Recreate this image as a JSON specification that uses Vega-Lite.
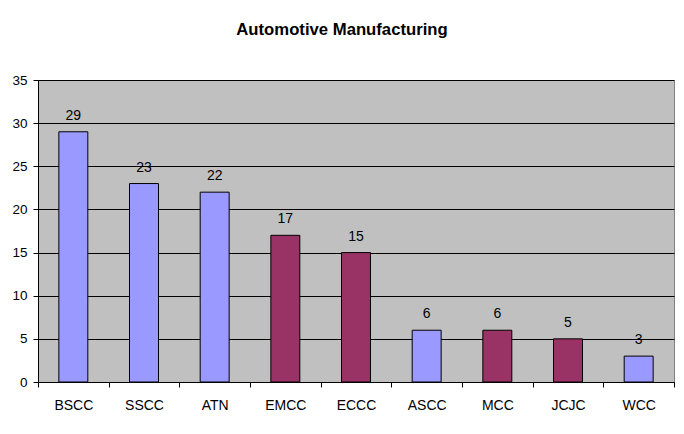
{
  "$schema": "https://vega.github.io/schema/vega-lite/v6.json",
  "width": 636,
  "height": 302,
  "autosize": {"type": "none"},
  "padding": {"left": 38, "top": 80, "right": 10, "bottom": 52},
  "background": "white",
  "title": {
    "text": "Automotive Manufacturing",
    "font": "Liberation Sans",
    "fontSize": 16.7,
    "fontWeight": "bold",
    "color": "black",
    "anchor": "middle",
    "offset": 34,
    "dx": -14
  },
  "data": {
    "values": [
      {"college": "BSCC", "count": 29, "group": "A"},
      {"college": "SSCC", "count": 23, "group": "A"},
      {"college": "ATN", "count": 22, "group": "A"},
      {"college": "EMCC", "count": 17, "group": "B"},
      {"college": "ECCC", "count": 15, "group": "B"},
      {"college": "ASCC", "count": 6, "group": "A"},
      {"college": "MCC", "count": 6, "group": "B"},
      {"college": "JCJC", "count": 5, "group": "B"},
      {"college": "WCC", "count": 3, "group": "A"}
    ]
  },
  "encoding": {
    "x": {
      "field": "college",
      "type": "nominal",
      "sort": null,
      "scale": {"paddingInner": 0, "paddingOuter": 0},
      "axis": {
        "title": null,
        "labelAngle": 0,
        "labelFont": "Liberation Sans",
        "labelFontSize": 14,
        "labelColor": "black",
        "labelPadding": 11,
        "tickBand": "extent",
        "tickColor": "black",
        "tickSize": 5,
        "domainColor": "black",
        "grid": false
      }
    },
    "y": {
      "field": "count",
      "type": "quantitative",
      "scale": {"domain": [0, 35], "nice": false},
      "axis": {
        "title": null,
        "values": [0, 5, 10, 15, 20, 25, 30, 35],
        "labelFont": "Liberation Sans",
        "labelFontSize": 13.5,
        "labelColor": "black",
        "labelPadding": 6,
        "tickColor": "black",
        "tickSize": 5,
        "domainColor": "black",
        "grid": true,
        "gridColor": "black",
        "gridOpacity": 1,
        "gridWidth": 1
      }
    }
  },
  "layer": [
    {
      "mark": {"type": "bar", "width": {"band": 0.41}, "stroke": "black", "strokeWidth": 1},
      "encoding": {
        "color": {
          "field": "group",
          "type": "nominal",
          "scale": {"domain": ["A", "B"], "range": ["#9999FF", "#993366"]},
          "legend": null
        }
      }
    },
    {
      "mark": {"type": "text", "font": "Liberation Sans", "fontSize": 14, "color": "black", "baseline": "alphabetic", "dy": -12},
      "encoding": {"text": {"field": "count", "type": "quantitative"}}
    }
  ],
  "config": {
    "view": {"fill": "#C0C0C0", "stroke": "#808080", "strokeWidth": 1}
  }
}
